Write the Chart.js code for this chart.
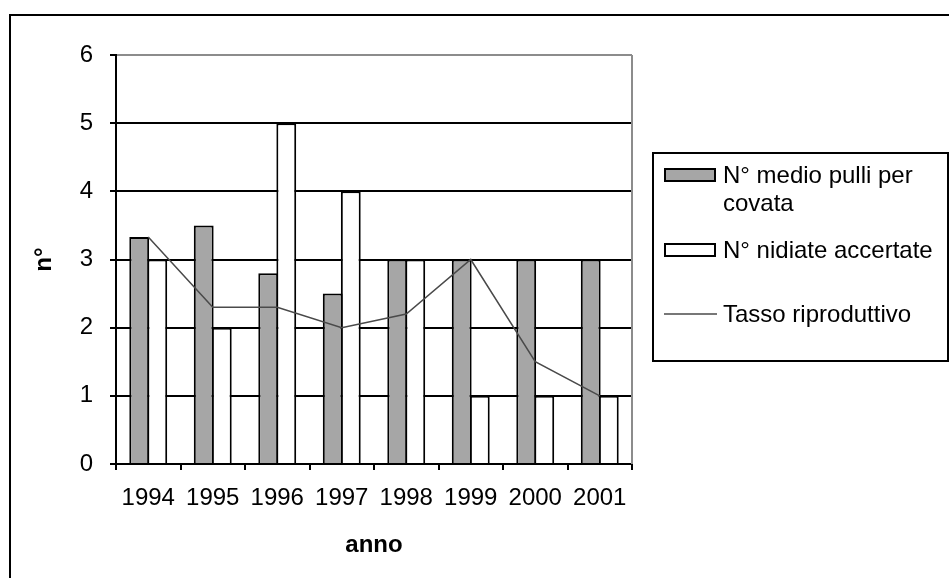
<!DOCTYPE html>
<html>
<head>
<meta charset="utf-8">
<script src="https://cdn.jsdelivr.net/npm/chart.js@4.4.1/dist/chart.umd.min.js"></script>
<style>
  body { margin: 0; background: #fff; }
  #wrap { width: 949px; height: 578px; }
</style>
</head>
<body>
<div id="wrap"><canvas id="chart" width="949" height="578"></canvas></div>
<script>
// data
var years = ['1994', '1995', '1996', '1997', '1998', '1999', '2000', '2001'];
var pulliPerCovata = [3.33, 3.5, 2.8, 2.5, 3, 3, 3, 3];
var nidiateAccertate = [3, 2, 5, 4, 3, 1, 1, 1];
var tassoRiproduttivo = [3.33, 2.3, 2.3, 2.0, 2.2, 3, 1.5, 1.0];
var yMin = 0, yMax = 6, yStep = 1;

var FONT = 'Liberation Sans, Arial, sans-serif';
Chart.defaults.font.family = FONT;
Chart.defaults.color = '#000';

// frame round the whole chart + grey plot border on the right
var framePlugin = {
  id: 'frame',
  beforeDatasetsDraw: function(chart) {
    var ctx = chart.ctx, a = chart.chartArea;
    ctx.save();
    ctx.strokeStyle = '#8c8c8c';
    ctx.lineWidth = 2;
    ctx.beginPath();
    ctx.moveTo(a.right, a.top);
    ctx.lineTo(a.right, a.bottom);
    ctx.stroke();
    ctx.restore();
  },
  afterDraw: function(chart) {
    var ctx = chart.ctx;
    ctx.save();
    ctx.strokeStyle = '#000';
    ctx.lineWidth = 2;
    ctx.strokeRect(10, 15, 1000, 1000);
    ctx.restore();
  }
};

// legend drawn like the original: boxed, on the right, with wrapped labels
var boxLegend = {
  id: 'boxLegend',
  afterDraw: function(chart) {
    var ctx = chart.ctx;
    var box = { left: 653, top: 153, right: 948, bottom: 361 };
    var rowBaselines = [30, 105, 169];
    var lineH = 28;
    var textX = 723;
    ctx.save();
    ctx.lineWidth = 2;
    ctx.strokeStyle = '#000';
    ctx.strokeRect(box.left, box.top, box.right - box.left, box.bottom - box.top);
    ctx.font = '24px ' + FONT;
    ctx.fillStyle = '#000';
    ctx.textBaseline = 'alphabetic';
    chart.data.datasets.forEach(function(ds, i) {
      var base = box.top + rowBaselines[i];
      // word wrap
      var words = ds.label.split(' '), lines = [], cur = '';
      words.forEach(function(w) {
        var t = cur ? cur + ' ' + w : w;
        if (ctx.measureText(t).width > box.right - textX + 4 && cur) { lines.push(cur); cur = w; }
        else cur = t;
      });
      lines.push(cur);
      lines.forEach(function(l, k) { ctx.fillText(l, textX, base + k * lineH); });
      var mid = base - 8;
      if (ds.type === 'line') {
        ctx.strokeStyle = ds.borderColor;
        ctx.lineWidth = ds.borderWidth;
        ctx.beginPath();
        ctx.moveTo(664, mid);
        ctx.lineTo(717, mid);
        ctx.stroke();
      } else {
        ctx.fillStyle = ds.backgroundColor;
        ctx.fillRect(665, mid - 6, 50, 12);
        ctx.strokeStyle = '#000';
        ctx.lineWidth = 2;
        ctx.strokeRect(665, mid - 6, 50, 12);
        ctx.fillStyle = '#000';
      }
    });
    ctx.restore();
  }
};

var ctx = document.getElementById('chart');
new Chart(ctx, {
  type: 'bar',
  data: {
    labels: years,
    datasets: [
      {
        label: 'N° medio pulli per covata',
        data: pulliPerCovata,
        backgroundColor: '#a6a6a6',
        borderColor: '#000',
        borderWidth: 2,
        order: 1
      },
      {
        label: 'N° nidiate accertate',
        data: nidiateAccertate,
        backgroundColor: '#fff',
        borderColor: '#000',
        borderWidth: 2,
        order: 1
      },
      {
        type: 'line',
        label: 'Tasso riproduttivo',
        data: tassoRiproduttivo,
        borderColor: '#4a4a4a',
        borderWidth: 1.5,
        pointRadius: 0,
        tension: 0,
        fill: false,
        order: 0
      }
    ]
  },
  options: {
    responsive: false,
    animation: false,
    categoryPercentage: 0.56,
    barPercentage: 1.1,
    layout: { padding: { left: 0, right: 317, top: 55, bottom: 0 } },
    plugins: {
      legend: { display: false },
      tooltip: { enabled: false }
    },
    scales: {
      x: {
        offset: true,
        grid: { offset: true, drawOnChartArea: false, tickLength: 6, color: '#000', lineWidth: 2 },
        border: { color: '#000', width: 2 },
        ticks: { font: { size: 24 }, color: '#000', padding: 14, maxRotation: 0, autoSkip: false },
        title: { display: true, text: 'anno', font: { size: 24, weight: 'bold' }, color: '#000', padding: { bottom: 18 } },
        afterFit: function(s) { s.height = 114; }
      },
      y: {
        min: yMin,
        max: yMax,
        ticks: { stepSize: yStep, font: { size: 24 }, color: '#000', padding: 17 },
        grid: {
          tickLength: 6,
          tickColor: '#000',
          lineWidth: 2,
          color: function(c) { return c.tick && c.tick.value === yMax ? '#8c8c8c' : '#000'; }
        },
        border: { color: '#000', width: 2 },
        title: { display: true, text: 'n°', font: { size: 24, weight: 'bold' }, color: '#000', padding: { top: 30 } },
        afterFit: function(s) { s.width = 116; }
      }
    }
  },
  plugins: [framePlugin, boxLegend]
});
</script>
</body>
</html>
